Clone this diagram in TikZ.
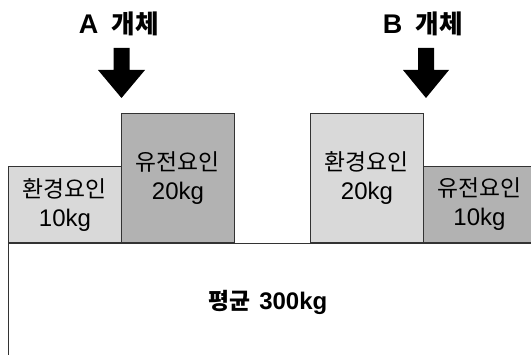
\documentclass[tikz,border=0pt]{standalone}
\usepackage{fontspec}
\setmainfont{Liberation Sans}
\newfontfamily\kr{Noto Sans CJK KR}[Scale=0.95]
\usetikzlibrary{positioning}
\tikzset{
  edge/.style={draw=black!80, line width=0.9pt},
  boxlight/.style={edge, fill=black!15, inner sep=0pt, anchor=south west, align=center,
    font=\fontsize{24}{29}\selectfont},
  boxdark/.style={edge, fill=black!30, inner sep=0pt, anchor=south west, align=center,
    font=\fontsize{24}{29}\selectfont},
  title/.style={font=\fontsize{27}{30}\selectfont\bfseries, inner sep=0pt},
  blockarrow/.style={fill=black, draw=none},
}
\begin{document}
\begin{tikzpicture}[x=1pt, y=-1pt]
\useasboundingbox (0,0) rectangle (531,355);
% base block
\coordinate (baseL) at (8,360);
\coordinate (baseTL) at (8,243);
\coordinate (baseR) at (540,243);
\draw[edge] (baseL) -- (baseTL) -- (baseR);
\node[font=\fontsize{24}{28}\selectfont\bfseries] (avg) at (268,302) {{\kr 평균}\hspace{2pt} 300kg};
% boxes A
\node[boxlight, minimum width=113pt, minimum height=76pt] (a1) at (8,243) {{\kr 환경요인}\\10kg};
\node[boxdark, minimum width=113pt, minimum height=129pt] (a2) at (121,243) {{\kr 유전요인}\\20kg};
% boxes B
\node[boxlight, minimum width=113pt, minimum height=129pt] (b1) at (310,243) {{\kr 환경요인}\\20kg};
\node[boxdark, minimum width=112pt, minimum height=76pt] (b2) at (423,243) {{\kr 유전요인}\\10kg};
% titles
\node[title] (ta) at (119,24) {A\hspace{6pt} {\kr 개체}};
\node[title] (tb) at (423,24) {B\hspace{6pt} {\kr 개체}};
% block arrows
\fill[blockarrow] (113.5,48) -- (129.5,48) -- (129.5,70) -- (145,70) -- (121.5,98) -- (98,70) -- (113.5,70) -- cycle;
\fill[blockarrow] (418,48) -- (434,48) -- (434,70) -- (449,70) -- (426,98) -- (403,70) -- (418,70) -- cycle;
\end{tikzpicture}
\end{document}
